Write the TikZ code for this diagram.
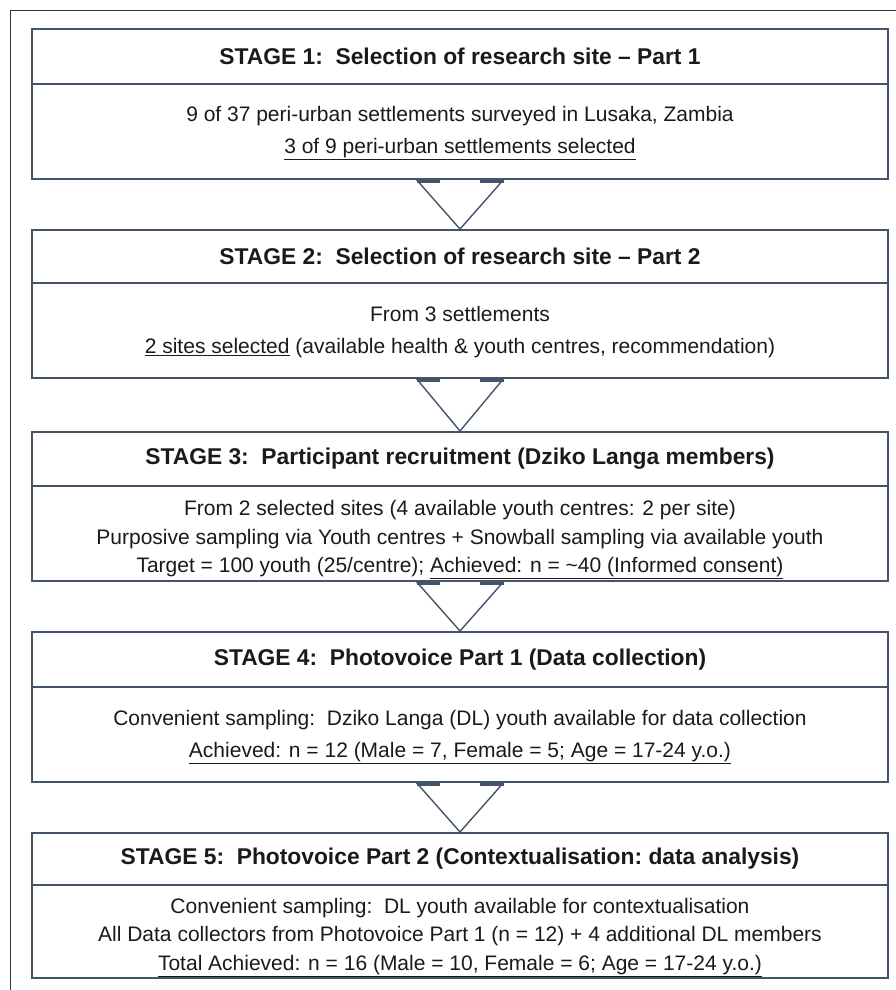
\documentclass[tikz,border=0pt]{standalone}
\usepackage{fontspec}
\setmainfont{Liberation Sans}
\usetikzlibrary{calc}
\definecolor{edge}{HTML}{44546A}
\definecolor{ink}{HTML}{1A1A1A}

\begin{document}
\begin{tikzpicture}[x=1pt,y=-1pt,
  stagebox/.style={draw=edge, line width=1.7pt, minimum width=856pt, inner sep=0pt,
    anchor=north, text=ink, align=center},
  headbox/.style={stagebox, font=\bfseries\fontsize{22.8}{26}\selectfont},
  bodybox/.style={stagebox},
  bodywide/.style={inner sep=0pt, text=ink, align=center, font=\fontsize{21}{32}\selectfont},
  bodytight/.style={inner sep=0pt, text=ink, align=center, font=\fontsize{21}{28.5}\selectfont},
  flowline/.style={draw=edge, line width=1.4pt},
  flowbar/.style={draw=edge, line width=2.6pt}]
\useasboundingbox (0,0) rectangle (895,990);

% outer frame
\draw[black!80, line width=1pt] (10,1000) -- (10,11) -- (905,11);

% stage 1
\node[headbox, minimum height=55pt] (h1) at (460,28)
  {STAGE 1:\ \ Selection of research site -- Part 1};
\node[bodybox, minimum height=95pt] (b1) at (460,83) {};
\node[bodywide] (t1) at ($(b1.center)+(0,2)$)
  {9 of 37 peri-urban settlements surveyed in Lusaka, Zambia\\
   \underline{3 of 9 peri-urban settlements selected}};

% stage 2
\node[headbox, minimum height=53pt] (h2) at (460,229)
  {STAGE 2:\ \ Selection of research site -- Part 2};
\node[bodybox, minimum height=95pt] (b2) at (460,282) {};
\node[bodywide] (t2) at ($(b2.center)+(0,2)$)
  {From 3 settlements\\
   \underline{2 sites selected} (available health \& youth centres, recommendation)};

% stage 3
\node[headbox, minimum height=54pt] (h3) at (460,431)
  {STAGE 3:\ \ Participant recruitment (Dziko Langa members)};
\node[bodybox, minimum height=95pt] (b3) at (460,485) {};
\node[bodytight] (t3) at ($(b3.center)+(0,6.5)$)
  {From 2 selected sites (4 available youth centres: 2 per site)\\
   Purposive sampling\ via Youth centres + Snowball\ sampling\ via available youth\\
   Target = 100 youth\ (25/centre); \underline{Achieved: n = \textasciitilde40 (Informed consent)}};

% stage 4
\node[headbox, minimum height=55pt] (h4) at (460,631)
  {STAGE 4:\ \ Photovoice Part 1 (Data collection)};
\node[bodybox, minimum height=95pt] (b4) at (460,686) {};
\node[bodywide] (t4) at ($(b4.center)+(0,3)$)
  {Convenient sampling:\ \ Dziko Langa (DL) youth available for data collection\\
   \underline{Achieved: n = 12 (Male = 7, Female = 5; Age = 17-24 y.o.)}};

% stage 5
\node[headbox, minimum height=52pt] (h5) at (460,832)
  {STAGE 5:\ \ Photovoice Part 2 (Contextualisation:\ data analysis)};
\node[bodybox, minimum height=93pt] (b5) at (460,884) {};
\node[bodytight] (t5) at ($(b5.center)+(0,6)$)
  {Convenient sampling:\ \ DL youth available for contextualisation\\
   All Data collectors from Photovoice Part 1 (n = 12) + 4 additional\ DL members\\
   \underline{Total Achieved: n = 16 (Male = 10, Female = 6; Age = 17-24 y.o.)}};

% down-pointing arrow heads between stages
\foreach \a/\b in {b1/h2, b2/h3, b3/h4, b4/h5}{
  \draw[flowline] ($(\a.south)+(-43.5,0)$) -- (\b.north) -- ($(\a.south)+(43.5,0)$);
  \draw[flowbar] ($(\a.south)+(-43.5,1.5)$) -- ($(\a.south)+(-20,1.5)$);
  \draw[flowbar] ($(\a.south)+(20,1.5)$) -- ($(\a.south)+(43.5,1.5)$);
}
\end{tikzpicture}
\end{document}
